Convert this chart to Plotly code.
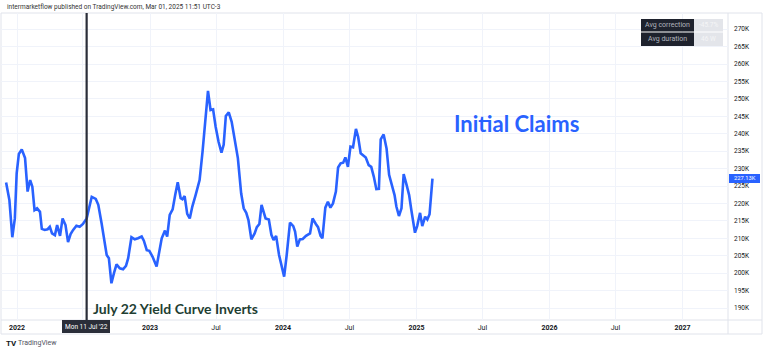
import plotly.graph_objects as go

# ---- data (weekly initial claims, thousands) ----
dates = [
    "2021-12-02", "2021-12-11", "2021-12-19", "2021-12-26", "2021-12-31", "2022-01-06", "2022-01-14",
    "2022-01-23", "2022-01-30", "2022-02-06", "2022-02-12", "2022-02-18", "2022-02-25", "2022-03-05",
    "2022-03-10", "2022-03-18", "2022-03-26", "2022-04-01", "2022-04-07", "2022-04-15", "2022-04-21",
    "2022-04-29", "2022-05-06", "2022-05-14", "2022-05-21", "2022-05-28", "2022-06-04", "2022-06-13",
    "2022-06-22", "2022-07-01", "2022-07-11", "2022-07-18", "2022-07-25", "2022-08-05", "2022-08-12",
    "2022-08-21", "2022-08-27", "2022-09-04", "2022-09-10", "2022-09-17", "2022-09-24", "2022-10-01",
    "2022-10-10", "2022-10-19", "2022-10-27", "2022-11-02", "2022-11-11", "2022-11-20", "2022-11-29",
    "2022-12-09", "2022-12-15", "2022-12-23", "2022-12-30", "2023-01-08", "2023-01-19", "2023-01-26",
    "2023-02-02", "2023-02-11", "2023-02-17", "2023-02-24", "2023-03-04", "2023-03-11", "2023-03-18",
    "2023-03-26", "2023-03-31", "2023-04-06", "2023-04-13", "2023-04-20", "2023-04-27", "2023-05-06",
    "2023-05-17", "2023-05-25", "2023-06-01", "2023-06-09", "2023-06-16", "2023-06-23", "2023-06-30",
    "2023-07-08", "2023-07-16", "2023-07-22", "2023-07-28", "2023-08-05", "2023-08-13", "2023-08-21",
    "2023-08-30", "2023-09-08", "2023-09-15", "2023-09-22", "2023-09-28", "2023-10-06", "2023-10-15",
    "2023-10-21", "2023-10-28", "2023-11-03", "2023-11-09", "2023-11-14", "2023-11-23", "2023-11-30",
    "2023-12-06", "2023-12-13", "2023-12-21", "2023-12-27", "2024-01-04", "2024-01-11", "2024-01-20",
    "2024-01-29", "2024-02-03", "2024-02-09", "2024-02-16", "2024-02-24", "2024-03-04", "2024-03-15",
    "2024-03-22", "2024-03-31", "2024-04-06", "2024-04-13", "2024-04-18", "2024-04-26", "2024-05-03",
    "2024-05-10", "2024-05-17", "2024-05-25", "2024-05-31", "2024-06-07", "2024-06-14", "2024-06-20",
    "2024-06-27", "2024-07-04", "2024-07-11", "2024-07-19", "2024-07-25", "2024-08-01", "2024-08-08",
    "2024-08-15", "2024-08-23", "2024-08-30", "2024-09-06", "2024-09-13", "2024-09-20", "2024-09-25",
    "2024-10-03", "2024-10-11", "2024-10-18", "2024-10-25", "2024-11-02", "2024-11-07", "2024-11-14",
    "2024-11-21", "2024-11-27", "2024-12-05", "2024-12-12", "2024-12-18", "2024-12-28", "2025-01-03",
    "2025-01-11", "2025-01-17", "2025-01-25", "2025-01-31", "2025-02-06", "2025-02-14",
]
claims_k = [
    226.0, 221.0, 210.3, 215.7, 228.6, 234.2, 235.5,
    233.0, 223.4, 226.7, 224.8, 218.1, 218.6, 217.6,
    212.7, 212.4, 212.6, 213.3, 211.4, 210.9, 213.8,
    210.7, 215.7, 213.8, 208.9, 211.2, 212.4, 213.6,
    213.3, 214.1, 215.7, 219.3, 221.9, 221.3, 219.6,
    214.3, 210.5, 205.2, 204.3, 197.1, 200.0, 202.5,
    201.4, 201.1, 202.1, 204.3, 210.3, 209.7, 210.0,
    210.5, 209.3, 206.6, 206.4, 204.7, 201.9, 205.7,
    210.0, 212.2, 210.5, 216.7, 218.3, 222.4, 226.1,
    221.5, 221.2, 222.1, 217.0, 215.7, 219.1, 222.4,
    226.7, 234.8, 243.0, 252.3, 246.8, 247.0, 242.0,
    237.7, 234.6, 236.8, 245.1, 246.1, 243.4, 238.2,
    233.0, 222.9, 218.6, 217.3, 215.2, 209.7, 211.4,
    213.2, 214.1, 219.6, 217.0, 215.7, 215.4, 211.0,
    209.5, 210.7, 205.2, 202.8, 199.0, 205.2, 214.5,
    213.5, 211.9, 207.6, 209.7, 209.8, 210.7, 211.4,
    215.7, 214.1, 213.2, 210.7, 210.0, 218.8, 220.5,
    218.8, 220.0, 223.4, 230.3, 231.5, 231.7, 233.2,
    230.5, 236.3, 236.1, 241.4, 239.1, 234.4, 233.9,
    233.2, 231.0, 230.5, 227.7, 224.1, 224.2, 238.4,
    239.8, 235.8, 228.2, 225.8, 222.4, 219.1, 216.4,
    218.6, 228.4, 225.3, 222.4, 218.1, 211.6, 213.5,
    217.3, 213.5, 216.2, 215.4, 216.9, 227.13,
]
y_ticks = [190, 195, 200, 205, 210, 215, 220, 225, 230, 235, 240, 245, 250, 255, 260, 265, 270]
x_tick_dates = ["2022-01-01", "2022-07-01", "2023-01-01", "2023-07-01", "2024-01-01", "2024-07-01",
                "2025-01-01", "2025-07-01", "2026-01-01", "2026-07-01", "2027-01-01"]
x_tick_text = ["<b>2022</b>", "", "<b>2023</b>", "Jul", "<b>2024</b>", "Jul",
               "<b>2025</b>", "Jul", "<b>2026</b>", "Jul", "<b>2027</b>"]
event_date = "2022-07-11"
last_label = "227.13K"

# ---- layout geometry (pixels) ----
W, H = 768, 353
L, R, T, B = 1, 40, 13, 33
PW, PH = W - L - R, H - T - B


def px(x):
    return (x - L) / PW


def py(y):
    return 1 - (y - T) / PH


BLUE = "#2962ff"
GRID = "#f0f3fa"
BORDER = "#e0e3eb"
DARK = "#131722"

fig = go.Figure()
fig.add_trace(go.Scatter(x=dates, y=claims_k, mode="lines",
                         line=dict(color=BLUE, width=2.6), showlegend=False,
                         hoverinfo="skip"))


def box(x0, x1, y0, y1, color):
    return dict(type="rect", xref="paper", yref="paper", x0=px(x0), x1=px(x1),
                y0=py(y1), y1=py(y0), fillcolor=color, line=dict(width=0), layer="above")


shapes = [
    dict(type="line", xref="x", yref="paper", x0=event_date, x1=event_date, y0=0, y1=1,
         line=dict(color="#2a2e39", width=2.2), layer="above"),
    dict(type="rect", xref="paper", yref="paper", x0=px(1), x1=px(762), y0=py(334), y1=py(13),
         line=dict(color=BORDER, width=1), layer="below"),
    dict(type="line", xref="paper", yref="paper", x0=1, x1=1, y0=py(334), y1=py(13),
         line=dict(color=BORDER, width=1), layer="below"),
    dict(type="line", xref="paper", yref="paper", x0=px(1), x1=px(762), y0=0, y1=0,
         line=dict(color=BORDER, width=1), layer="below"),
    box(62, 110, 320, 333, "#2a2e39"),
    box(729, 760, 174, 183, BLUE),
    box(641, 694, 19, 31.5, "#1e222d"),
    box(641, 694, 32.5, 46, "#1e222d"),
    box(694, 723, 19, 31.5, "#e3e5ea"),
    box(694, 723, 32.5, 46, "#e3e5ea"),
]


def note(text, x, y, size, color, family="Roboto", xanchor="left", bold=False):
    return dict(text=text, xref="paper", yref="paper", x=px(x), y=py(y),
                xanchor=xanchor, yanchor="middle", showarrow=False,
                font=dict(family=family, size=size, color=color,
                          weight="bold" if bold else "normal"))


annotations = [
    note("intermarketflow published on TradingView.com, Mar 01, 2025 11:51 UTC-3", 5, 7.5, 6.5, "#333333"),
    note("Initial Claims", 452, 124, 22, BLUE, family="Lato", bold=True),
    note("July 22 Yield Curve Inverts", 91, 308, 14, "#1f3f33", family="Lato", bold=True),
    note("Mon 11 Jul '22", 86, 326.5, 6.5, "#ffffff", xanchor="center"),
    note(last_label, 744.5, 178.3, 5.8, "#ffffff", xanchor="center"),
    note("Avg correction", 667.5, 25.3, 7, "#b2b5be", xanchor="center"),
    note("Avg duration", 667.5, 39.3, 7, "#b2b5be", xanchor="center"),
    note("-45.7%", 708.5, 25.3, 6.5, "#f5f5f7", xanchor="center"),
    note("46 W", 708.5, 39.3, 6.5, "#f5f5f7", xanchor="center"),
    note("TV", 4, 343, 8, "#131722", bold=True),
    note("TradingView", 16, 343, 7, "#50535e"),
]

fig.update_layout(
    width=W, height=H,
    margin=dict(l=L, r=R, t=T, b=B, pad=0),
    paper_bgcolor="#ffffff", plot_bgcolor="#ffffff",
    shapes=shapes, annotations=annotations,
    showlegend=False,
    xaxis=dict(type="date", range=["2021-11-18", "2027-05-06"],
               tickmode="array", tickvals=x_tick_dates, ticktext=x_tick_text,
               showgrid=True, gridcolor=GRID, gridwidth=1, zeroline=False,
               showline=False, ticks="", ticklabelstandoff=2,
               tickfont=dict(family="Roboto", size=7, color=DARK)),
    yaxis=dict(range=[186.56, 274.63], side="right",
               tickmode="array", tickvals=y_ticks, ticktext=[f"{v}K" for v in y_ticks],
               showgrid=True, gridcolor=GRID, gridwidth=1, zeroline=False,
               showline=False, ticks="", ticklabelstandoff=5,
               tickfont=dict(family="Roboto", size=6.5, color=DARK)),
)

fig.write_html("out.html")
